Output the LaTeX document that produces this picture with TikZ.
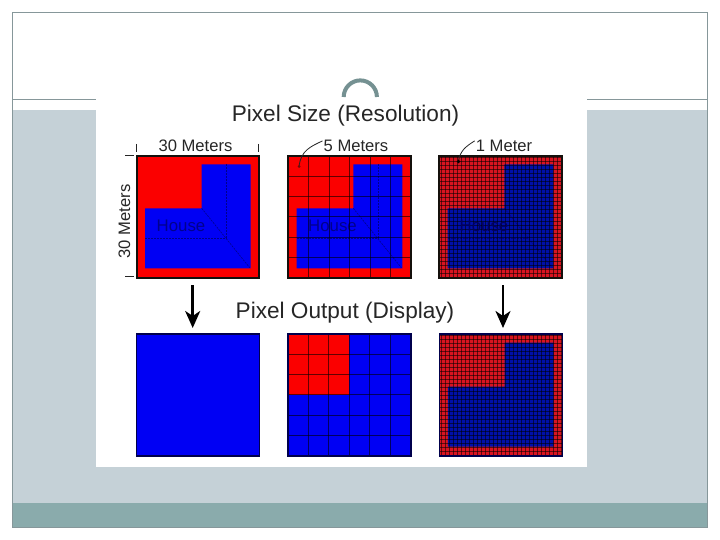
\documentclass[tikz,border=0pt]{standalone}
\usepackage{fontspec}
\setmainfont{Liberation Sans}
\usetikzlibrary{arrows.meta}
\definecolor{framegray}{HTML}{86979A}
\definecolor{bandgray}{HTML}{C5D1D7}
\definecolor{bandteal}{HTML}{8AABAC}
\definecolor{pixred}{HTML}{FB0000}
\definecolor{pixblue}{HTML}{0000F4}
\definecolor{fineRed}{HTML}{D81420}
\definecolor{fineBlue}{HTML}{0010A8}
\definecolor{houseText}{HTML}{00008C}
\definecolor{houseTextDark}{HTML}{000060}
\definecolor{inkdark}{HTML}{14100C}
\tikzset{
  x=1pt,y=-1pt,
  paneledge/.style={draw=inkdark,line width=2pt},
  paneledgethin/.style={draw=black!70!blue,line width=1.3pt},
  gridcoarse/.style={fill=black,opacity=0.6},
  gridfine/.style={fill=black,opacity=0.55},
  hint/.style={draw=houseText,line width=0.6pt,dash pattern=on 2pt off 1pt},
  lbl/.style={font=\fontsize{16.6}{18}\selectfont,text=black!85,inner sep=0pt},
  headline/.style={font=\fontsize{22.6}{24}\selectfont,text=black!85,inner sep=0pt},
  housetext/.style={font=\fontsize{16.8}{18}\selectfont,text=houseText,inner sep=0pt},
  tick/.style={draw=black!85,line width=0.9pt},
  bigarrow/.style={draw=black,line width=2.5pt,-{Stealth[length=17pt,width=15pt,inset=5pt]}},
  leader/.style={draw=black!85,line width=0.8pt},
}
\newcommand{\housefill}[4]{%
  \fill[#3] (#1,#2) rectangle ++(123,122);
  \fill[#4] (#1+8.3,#2+52.6) -- (#1+65,#2+52.6) -- (#1+65,#2+8.6) -- (#1+114,#2+8.6)
    -- (#1+114,#2+112.6) -- (#1+8.3,#2+112.6) -- cycle;}
\newcommand{\househints}[2]{%
  \draw[hint] (#1+89.5,#2+8.6) -- (#1+89.5,#2+82.3) -- (#1+8.3,#2+82.3);
  \draw[hint] (#1+65,#2+52.6) -- (#1+113,#2+112);}
\newcommand{\coarsegrid}[2]{%
  \foreach \k in {1,...,5}{
    \fill[gridcoarse] (#1+\k*20.5-0.5,#2) rectangle ++(1,122);
    \fill[gridcoarse] (#1,#2+\k*20.33-0.5) rectangle ++(123,1);}}
% lines one pixel wide on a whole-pixel pitch, so that they all render alike
\newcommand{\finegrid}[4]{%
  \foreach \k in {0,...,30}{
    \fill[gridfine] (#3+\k*4,#2) rectangle ++(1,122);
    \fill[gridfine] (#1,#4+\k*4) rectangle ++(123,1);}}
\begin{document}
\begin{tikzpicture}
\useasboundingbox (0,0) rectangle (720,540);
\fill[white] (0,0) rectangle (720,540);
% slide
\fill[bandgray] (12.5,110) rectangle (707.5,503);
\fill[bandteal] (12.5,503) rectangle (707.5,527);
\draw[framegray,line width=1pt] (12.5,12.5) rectangle (707.5,527);
\draw[framegray,line width=1pt] (12.5,100) -- (707.5,100);
% photo
\fill[white] (96,99) rectangle (587,467);
\draw[bandteal!85!black,line width=4pt] (343.7,97) arc[start angle=180,end angle=360,radius=16.6];
% top row
\housefill{136.7}{155.7}{pixred}{pixblue}
\househints{136.7}{155.7}
\node[housetext] (h1) at (181,225.5) {House};
\draw[paneledge] (136.7,155.7) rectangle ++(122.6,122);

\housefill{288.3}{155.7}{pixred}{pixblue}
\househints{288.3}{155.7}
\node[housetext] (h2) at (332.5,225.5) {House};
\coarsegrid{288.3}{155.7}
\draw[paneledge] (288.3,155.7) rectangle ++(122.6,122);

\housefill{439.3}{155.7}{fineRed}{fineBlue}
\househints{439.3}{155.7}
\finegrid{439.3}{155.7}{441}{157}
\node[housetext,text=houseTextDark] (h3) at (484,225.5) {House};
\draw[paneledge] (439.3,155.7) rectangle ++(122.8,122);

% bottom row
\fill[pixblue] (136.2,334) rectangle ++(123,122);
\draw[paneledgethin] (136.2,334) rectangle ++(123,122);

\fill[pixblue] (287.9,334) rectangle ++(123,122);
\fill[pixred] (287.9,334) rectangle ++(61.5,61);
\coarsegrid{287.9}{334}
\draw[paneledgethin] (287.9,334) rectangle ++(123,122);

\housefill{439.5}{334}{fineRed}{fineBlue}
\finegrid{439.5}{334}{441}{335}
\draw[paneledgethin] (439.5,334) rectangle ++(123,122);

% titles
\node[headline,anchor=base] (t1) at (345.5,121.5) {Pixel Size (Resolution)};
\node[headline,anchor=base] (t2) at (345,318.5) {Pixel Output (Display)};
% dimension labels
\node[lbl,anchor=base] (m30) at (195.5,151.5) {30 Meters};
\node[lbl,rotate=90,anchor=base] (m30v) at (130,221.5) {30 Meters};
\node[lbl,anchor=base] (m5) at (356,151.5) {5 Meters};
\node[lbl,anchor=base] (m1) at (504,151.5) {1 Meter};
\draw[tick] (136.7,144) -- (136.7,152);
\draw[tick] (258.3,144) -- (258.3,152);
\draw[tick] (125,155.7) -- (134,155.7);
\draw[tick] (125,276.5) -- (134,276.5);
% leaders
\coordinate (d5) at (299,166.5);
\coordinate (d1) at (458.5,161.5);
\draw[leader] (m5.west) ++(-1,-5) .. controls (311,146.5) and (301,150) .. (d5);
\draw[leader] (m1.west) ++(-1,-5) .. controls (465,147) and (460,151) .. (d1);
\fill[inkdark!60!red] (d5) circle (1.5);
\fill[black] (d1) circle (1.8);
% arrows
\coordinate (a1s) at (192.7,285);
\coordinate (a1e) at (192.7,328);
\coordinate (a2s) at (503,285);
\coordinate (a2e) at (503,328);
\draw[bigarrow] (a1s) -- (a1e);
\draw[bigarrow] (a2s) -- (a2e);
\end{tikzpicture}
\end{document}
